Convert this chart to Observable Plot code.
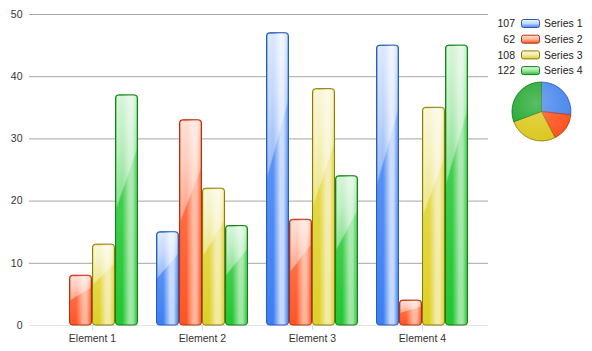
<!DOCTYPE html>
<html>
<head>
<meta charset="utf-8">
<script src="https://cdn.jsdelivr.net/npm/d3@7"></script>
<script src="https://cdn.jsdelivr.net/npm/@observablehq/plot@0.6"></script>
<style>
  html, body { margin: 0; padding: 0; background: #fff; }
  #chart svg { display: block; }
</style>
</head>
<body>
<div id="chart"></div>
<script>
// ---- data ----
const elements = ["Element 1", "Element 2", "Element 3", "Element 4"];
const seriesNames = ["Series 1", "Series 2", "Series 3", "Series 4"];
const series1 = [0, 15, 47, 45];
const series2 = [8, 33, 17, 4];
const series3 = [13, 22, 38, 35];
const series4 = [37, 16, 24, 45];
const yTicks = [0, 10, 20, 30, 40, 50];

// ---- styles ----
const seriesValues = [series1, series2, series3, series4];
const sat   = ["#3b7ef3", "#ff5321", "#ded025", "#20c62f"];
const light = ["#c4d8fb", "#ffb49a", "#f2eba6", "#9fe6a5"];
const pale  = ["#eef4ff", "#ffe4da", "#fbf8dc", "#ddf8df"];
const edge  = ["#2d5cb5", "#b5300f", "#8a7a12", "#1b7a1d"];
const pieFill = ["#4a88ec", "#ff5522", "#dcc820", "#22a830"];

const rows = elements.flatMap((e, i) =>
  seriesNames.map((s, j) => ({element: e, series: s, value: seriesValues[j][i]})));

const sub = 23; // sub-bar width within each element band

const barMarks = seriesNames.flatMap((s, j) => {
  const d = rows.filter(r => r.series === s && r.value > 0);
  return [
    Plot.barY(d, {x: "element", y: "value", fill: `url(#base${j})`, stroke: edge[j], strokeWidth: 1,
      rx: 3, insetLeft: sub * j + 0.5, insetRight: sub * (3 - j) + 0.5}),
    Plot.barY(d, {x: "element", y: "value", fill: "url(#gloss)",
      rx: 2, insetLeft: sub * j + 1.5, insetRight: sub * (3 - j) + 1.5, insetTop: 1})
  ];
});

const svg = Plot.plot({
  width: 592,
  height: 351,
  marginTop: 14,
  marginBottom: 26,
  marginLeft: 29,
  marginRight: 104,
  style: {fontFamily: "'Liberation Sans', Arial, sans-serif", fontSize: "10.5px", background: "#fff"},
  x: {type: "band", domain: elements, paddingInner: 0.1636, paddingOuter: 0.168, align: 0.46, label: null},
  y: {domain: [0, 50], label: null},
  marks: [
    Plot.ruleY(yTicks.filter(t => t > 0), {stroke: "#a6a6a6"}),
    Plot.ruleY([0], {stroke: "#e3e3e3"}),
    Plot.axisY(yTicks, {tickSize: 0, tickPadding: 7, fill: "#333", label: null}),
    Plot.axisX({tickSize: 5, tickPadding: 4, stroke: "#dadada", fill: "#333", label: null}),
    ...barMarks
  ]
});

// gradient definitions
const root = d3.select(svg);
const defs = root.insert("defs", ":first-child");
seriesNames.forEach((s, j) => {
  const g = defs.append("linearGradient").attr("id", `base${j}`)
    .attr("x1", 0).attr("y1", 0).attr("x2", 1).attr("y2", 0);
  [[0, sat[j]], [0.3, sat[j]], [0.62, light[j]], [0.78, light[j]], [1, sat[j]]]
    .forEach(([o, c]) => g.append("stop").attr("offset", o).attr("stop-color", c));
  const sw = defs.append("linearGradient").attr("id", `sw${j}`)
    .attr("x1", 0).attr("y1", 0).attr("x2", 0).attr("y2", 1);
  [[0, pale[j]], [0.5, light[j]], [1, sat[j]]]
    .forEach(([o, c]) => sw.append("stop").attr("offset", o).attr("stop-color", c));
});
const gl = defs.append("linearGradient").attr("id", "gloss")
  .attr("x1", 0).attr("y1", 0).attr("x2", 0.25).attr("y2", 1);
[[0, 0.85], [0.25, 0.7], [0.45, 0.5], [0.47, 0.15], [1, 0]]
  .forEach(([o, a]) => gl.append("stop").attr("offset", o).attr("stop-color", "#fff").attr("stop-opacity", a));

// legend
const sums = seriesValues.map(v => d3.sum(v));
const lg = root.append("g").style("font-family", "'Liberation Sans', Arial, sans-serif").style("font-size", "10.5px");
seriesNames.forEach((s, j) => {
  const cy = 23.5 + j * 15.7;
  lg.append("text").attr("x", 515).attr("y", cy).attr("dy", "0.35em").attr("text-anchor", "end")
    .attr("fill", "#222").text(sums[j]);
  lg.append("rect").attr("x", 521.5).attr("y", cy - 4).attr("width", 18).attr("height", 8)
    .attr("rx", 2).attr("fill", `url(#sw${j})`).attr("stroke", edge[j]);
  lg.append("text").attr("x", 544).attr("y", cy).attr("dy", "0.35em").attr("text-anchor", "start")
    .attr("fill", "#222").text(s);
});

// pie
const pie = d3.pie().sort(null)(sums);
const arc = d3.arc().innerRadius(0).outerRadius(29.5);
const pg = root.append("g").attr("transform", "translate(541.5,111.5)");
pg.selectAll("path").data(pie).join("path")
  .attr("d", arc).attr("fill", (d, i) => pieFill[i]).attr("stroke", (d, i) => edge[i]).attr("stroke-width", 0.8);
const rg = defs.append("radialGradient").attr("id", "pieGloss").attr("cx", 0.4).attr("cy", 0.35).attr("r", 0.7);
[[0, 0.25], [0.6, 0.08], [1, 0]].forEach(([o, a]) => rg.append("stop").attr("offset", o).attr("stop-color", "#fff").attr("stop-opacity", a));
pg.append("circle").attr("r", 29).attr("fill", "url(#pieGloss)");

document.getElementById("chart").appendChild(svg);
</script>
</body>
</html>
